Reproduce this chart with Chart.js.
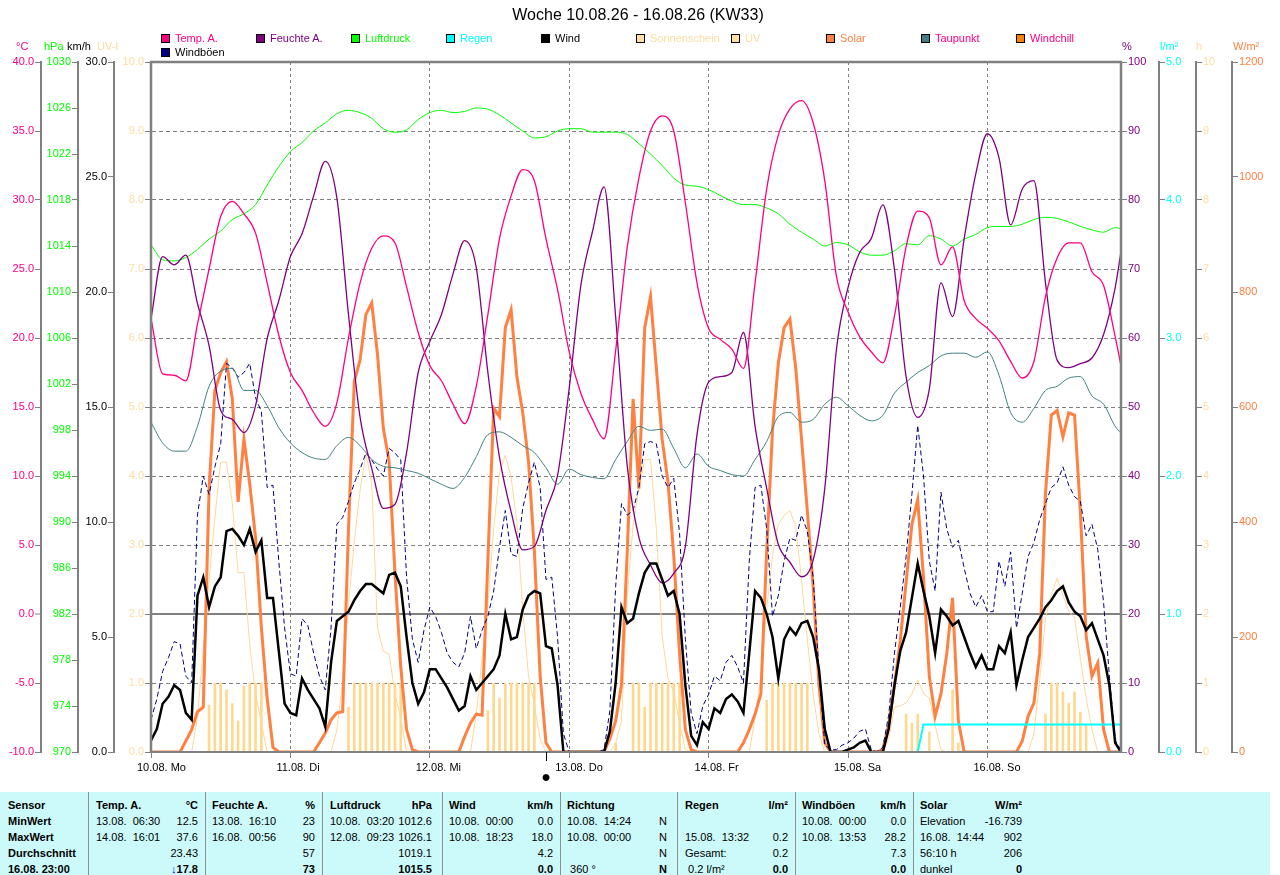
<!DOCTYPE html>
<html><head><meta charset="utf-8">
<script src="https://cdn.jsdelivr.net/npm/chart.js@4.4.1/dist/chart.umd.min.js"></script>
<style>
html,body{margin:0;padding:0;background:#fff;}
body{width:1280px;height:875px;overflow:hidden;position:relative;font-family:"Liberation Sans",Arial,Helvetica,sans-serif;}
#wrap{position:absolute;left:0;top:0;width:1280px;height:792px;}
.a{position:absolute;white-space:pre;font-size:11px;line-height:13px;}
#title{position:absolute;left:0;top:6px;width:1276px;text-align:center;font-size:16px;line-height:18px;color:#000;}
.box{position:absolute;width:7px;height:7px;border:1px solid #000;}
#tbl{position:absolute;left:0;top:792px;width:1270px;height:83px;background:#ccfafa;}
.c{position:absolute;white-space:pre;font-size:11px;line-height:16px;color:#000;}
.b{font-weight:bold;}
.sep{position:absolute;top:0;width:1px;height:83px;background:#909090;}
</style></head><body>
<div id="wrap"><canvas id="c" width="1280" height="792"></canvas></div>
<div id="title">Woche 10.08.26 - 16.08.26 (KW33)</div>
<div id="tbl"></div>
<script>
const FONT = '"Liberation Sans", Arial, Helvetica, sans-serif';

// ---- time axis ----
const dayTicks = [0, 24, 48, 72, 96, 120, 144];
const dayLabels = ['10.08. Mo', '11.08. Di', '12.08. Mi', '13.08. Do', '14.08. Fr', '15.08. Sa', '16.08. So'];
const hours2 = Array.from({length: 84}, (_, i) => i * 2).concat([167]);
const hours1 = Array.from({length: 168}, (_, i) => i);
const moonHour = 68;

// ---- 2-hourly series ----
const temperature = [
21.4,17.4,17.3,16.9,21.0,25.0,28.8,29.9,29.0,27.6,24.0,20.2,
17.5,16.2,14.6,13.6,15.3,20.0,24.0,26.5,27.4,26.9,23.7,20.4,
18.0,16.9,15.2,13.8,16.5,21.7,27.2,30.3,32.2,31.4,27.2,23.5,
19.0,16.0,14.1,12.7,19.1,26.6,31.6,35.0,36.1,35.0,29.8,24.0,
20.7,19.9,19.2,17.8,24.0,30.8,34.7,36.6,37.2,35.6,31.4,24.5,
21.9,20.1,19.0,18.2,21.6,26.6,29.2,28.7,25.3,26.6,22.7,21.4,
20.7,19.8,18.3,17.1,18.3,23.0,25.8,26.9,26.9,24.8,23.8,20.1,18.0];
const humidity = [
62.8,71.8,70.6,72.0,65.0,58.9,49.5,48.2,46.3,50.2,59.9,65.4,
71.8,75.1,80.6,85.6,80.3,63.4,48.5,41.1,35.3,35.9,43.4,55.0,
59.5,63.4,69.3,74.1,70.2,55.0,42.7,34.8,29.3,29.8,35.0,40.1,
52.7,67.6,75.4,81.9,63.0,41.4,31.1,27.1,24.5,25.9,29.8,46.0,
53.6,54.4,55.0,60.8,47.2,38.2,30.1,27.5,25.4,27.8,38.2,58.3,
67.3,72.4,74.4,79.3,69.9,54.4,48.5,52.6,68.0,63.1,74.4,83.8,
89.6,86.1,76.4,81.6,82.8,68.0,56.8,55.7,56.3,57.1,60.5,67.3,72.5];
const pressure = [
1014.1,1012.8,1012.7,1013.0,1013.7,1014.6,1015.3,1016.3,1016.8,1017.6,1019.3,1020.9,
1022.2,1023.0,1024.0,1024.7,1025.5,1025.8,1025.6,1025.1,1024.2,1023.9,1024.1,1025.0,
1025.6,1025.8,1025.6,1025.7,1026.0,1025.9,1025.4,1024.7,1024.0,1023.4,1023.5,1024.0,
1024.2,1024.2,1023.9,1023.9,1023.9,1023.7,1022.9,1022.0,1021.0,1019.9,1019.3,1019.2,
1018.9,1018.4,1017.9,1017.6,1017.6,1017.3,1016.8,1015.9,1015.2,1014.6,1014.0,1014.3,
1014.1,1013.5,1013.2,1013.2,1013.6,1014.2,1014.1,1014.9,1014.6,1014.0,1014.6,1015.0,
1015.6,1015.7,1015.7,1015.9,1016.3,1016.5,1016.4,1016.1,1015.7,1015.4,1015.2,1015.6,1015.5];
const dewpoint = [
13.9,12.4,11.8,11.8,13.6,16.5,17.6,17.8,16.2,16.2,15.1,13.5,
12.4,11.7,11.3,11.2,12.2,12.8,12.2,11.2,10.7,10.6,10.4,10.2,
9.8,9.4,9.1,9.9,11.4,13.0,13.2,12.8,12.2,11.7,10.6,9.4,
10.5,10.1,9.9,9.8,11.2,12.5,13.6,13.3,13.4,12.0,10.6,11.6,
10.7,10.4,10.1,10.0,11.2,12.5,14.3,14.6,13.9,14.1,15.2,15.7,
15.1,14.4,14.0,14.4,16.0,16.8,17.5,18.0,18.7,18.9,18.9,18.6,
19.0,17.3,14.6,13.9,14.9,16.2,16.5,17.1,17.2,15.8,15.2,13.6,13.1];

// ---- hourly series ----
const wind = [
0.5,1.0,2.1,2.4,2.9,2.7,1.7,1.4,6.8,7.6,6.3,7.2,7.6,9.6,9.7,9.4,9.0,9.7,8.7,9.2,6.7,6.7,4.4,2.1,
1.7,1.6,3.2,2.7,2.3,1.9,1.1,3.9,5.7,5.9,6.1,6.6,7.0,7.3,7.3,7.1,6.9,7.7,7.8,7.2,5.0,3.0,2.1,2.6,
3.6,3.6,3.2,2.8,2.3,1.8,2.0,3.3,2.7,3.0,3.3,3.6,4.2,6.0,4.9,5.0,6.2,6.8,7.0,6.9,4.6,4.5,2.9,0.0,
0,0,0,0,0,0,0,0.9,3.0,6.3,5.6,5.8,6.9,7.8,8.2,8.2,7.5,6.8,7.0,6.0,2.9,0.7,0.3,1.3,
1.0,1.9,1.7,2.3,2.5,2.2,1.7,4.3,7.0,6.7,6.0,5.0,3.2,4.9,5.4,5.1,5.6,5.7,5.0,3.6,1.0,0,0,0,
0.1,0.2,0.4,0.5,0,0,0,1.0,2.9,4.4,5.2,6.7,8.2,7.0,5.9,4.3,6.2,5.9,5.5,5.7,5.0,4.3,3.7,4.2,
3.6,3.6,4.6,4.3,5.2,2.9,4.0,5.0,5.4,5.8,6.3,6.6,7.0,7.2,6.5,6.1,5.9,5.3,5.6,4.9,4.2,2.9,0.4,0];
const gusts = [
1.4,2.3,3.5,4.1,4.8,4.7,3.3,3.0,10.3,12.0,11.2,12.4,13.4,16.9,16.7,16.3,16.5,16.9,15.4,14.8,11.5,11.6,8.3,5.4,
3.4,3.3,5.8,5.5,4.3,3.3,2.7,5.4,9.9,10.2,10.9,11.7,12.3,13.0,12.7,12.3,12.0,13.2,13.0,12.7,7.6,4.9,3.9,5.3,
6.3,5.9,5.2,4.3,3.9,3.7,4.3,5.9,4.5,5.3,5.9,7.0,8.9,10.5,8.6,8.5,10.6,11.7,12.6,11.5,7.5,7.6,5.0,0.8,
0,0,0,0,0,0,0.1,1.8,7.2,10.8,10.3,10.5,11.5,13.4,13.5,13.4,12.0,11.5,11.9,9.5,4.9,1.7,0.8,2.0,
2.5,3.3,3.1,3.9,4.2,3.7,3.0,8.3,11.5,11.6,9.7,5.9,6.8,8.3,9.3,9.2,10.3,9.6,7.6,3.5,0.3,0.1,0.1,0.3,
0.4,0.6,0.9,1.0,0.1,0,0.2,1.6,4.3,6.3,8.5,11.2,14.2,12.0,8.3,7.0,11.3,9.7,8.9,9.2,8.0,6.9,6.3,6.8,
6.1,6.1,8.3,7.2,8.7,5.4,6.9,8.5,9.1,10.1,10.8,11.5,11.7,12.4,11.6,11.1,10.9,9.4,9.9,8.8,6.5,3.3,0.5,0.1];
const solar = [
0,0,0,0,0,0,19,39,70,78,458,629,660,679,614,435,544,466,373,217,93,8,0,0,
0,0,0,0,0,16,33,56,68,70,388,645,682,761,781,691,563,505,311,148,39,4,0,0,
0,0,0,0,0,0,27,50,66,64,334,598,583,738,769,652,590,505,350,132,16,0,0,0,
0,0,0,0,0,0,0,23,54,117,350,614,458,738,792,668,544,470,342,171,39,4,0,0,
0,0,0,0,0,0,16,39,66,101,350,559,676,738,753,668,544,419,287,117,16,0,0,0,
0,0,0,0,0,0,4,47,117,194,295,396,439,303,132,62,101,171,268,54,0,0,0,0,
0,0,0,0,0,0,19,62,85,171,450,586,594,548,590,586,419,202,132,155,39,0,0,0];
const uvIndex = [
0,0,0,0,0,0,0,0,0.5,1.5,2.5,3.4,4.2,4.2,3.6,2.6,2.6,1.55,0.84,0.42,0,0,0,0,
0,0,0,0,0,0,0,0,0.32,1.04,2.14,3.04,3.8,4.32,3.9,1.8,1.46,1.42,0.84,0.49,0,0,0,0,
0,0,0,0,0,0,0,0,0.55,1.36,2.14,3.24,4.05,4.3,3.98,3.33,2.07,1.1,0.68,0.19,0,0,0,0,
0,0,0,0,0,0,0,0,0.13,0.45,2.27,3.3,3.8,4.24,4.24,3.24,1.68,1.07,0.87,0.42,0.03,0,0,0,
0,0,0,0,0,0,0,0,0.5,1.1,2.07,2.85,3.3,3.43,3.5,3.27,2.49,1.62,0.84,0.26,0,0,0,0,
0,0,0,0,0,0,0,0.19,0.65,0.67,0.71,0.84,1.04,0.85,0.78,0.39,0.03,0,0,0,0,0,0,0,
0,0,0,0,0,0,0,0,0.26,1.04,1.94,2.27,2.52,2.27,2.04,1.95,1.36,0.78,0.32,0,0,0,0,0];

// ---- sunshine (hourly bars) and rain ----
const sunHours = [10,11,12,13,14,15,16,17,18,19, 34,35,36,37,38,39,40,41,42,43, 58,59,60,61,62,63,64,65,66,
  80,83,84,85,86,87,88,89,90,91, 106,107,108,109,110,111,112,113, 130,131,132,134,138,139, 154,155,156,157,158,159,160,161];
const sunValues = [0.68,1,1,0.9,0.7,0.45,0.95,1,1,1, 0.65,1,1,1,1,1,1,1,1,1, 0.6,1,0.78,1,1,1,1,1,1,
  0.13,1,1,0.65,1,1,1,1,1,1, 0.75,1,1,1,1,1,1,1, 0.55,0.42,0.55,0.29,0.9,0.13, 0.55,1,1,0.87,0.71,0.87,0.58,0.39];
const rainHours = [0, 132, 133, 167];
const rainValues = [0, 0, 0.2, 0.2];

// ---- axis ticks ----
const tempTicks = [-10,-5,0,5,10,15,20,25,30,35,40];
const pressTicks = [970,974,978,982,986,990,994,998,1002,1006,1010,1014,1018,1022,1026,1030];
const windTicks = [0,5,10,15,20,25,30];
const uvTicks = [0,1,2,3,4,5,6,7,8,9,10];
const humTicks = [0,10,20,30,40,50,60,70,80,90,100];
const rainTicks = [0,1,2,3,4,5];
const sunTicks = [0,1,2,3,4,5,6,7,8,9,10];
const solarTicks = [0,200,400,600,800,1000,1200];

// ---- legend ----
const legendNames = ['Temp. A.','Feuchte A.','Luftdruck','Regen','Wind','Sonnenschein','UV','Solar','Taupunkt','Windchill','Windböen'];
const legendBox = ['#ff0080','#800080','#00ff00','#00ffff','#000000','#ffe0a0','#ffe0a0','#ff8040','#408080','#ff8000','#000080'];
const legendText = ['#ff0080','#800080','#00ff00','#00ffff','#000000','#ffdca0','#ffdca0','#ff8040','#ff0080','#ff0080','#000000'];

const axisTitles = [['°C',16,'#ff0080'],['hPa',44,'#00ff00'],['km/h',67,'#000000'],['UV-I',97,'#ffdca0'],
  ['%',1122,'#800080'],['l/m²',1160,'#00ffff'],['h',1196,'#ffdca0'],['W/m²',1233,'#ff8040']];

legendNames.forEach((n, i) => {
  const row = i < 10 ? 0 : 1, col = i < 10 ? i : 0;
  const x = 161 + 95 * col, y = 34 + 14 * row;
  const b = document.createElement('div'); b.className = 'box';
  b.style.left = x + 'px'; b.style.top = y + 'px'; b.style.background = legendBox[i];
  document.body.appendChild(b);
  const t = document.createElement('div'); t.className = 'a';
  t.style.left = (x + 14) + 'px'; t.style.top = (y - 2) + 'px'; t.style.color = legendText[i];
  t.textContent = n; document.body.appendChild(t);
});
axisTitles.forEach(([s, x, c]) => {
  const t = document.createElement('div'); t.className = 'a';
  t.style.left = x + 'px'; t.style.top = '40px'; t.style.color = c; t.textContent = s;
  document.body.appendChild(t);
});

// ---- chart ----
const pts = (xs, ys) => xs.map((x, i) => ({x: x, y: ys[i]}));
const GREY = '#808080';
function sideAxis(pos, min, max, ticksArr, fmt, color, width, weight, extra) {
  const ax = {
    type: 'linear', position: pos, min: min, max: max, weight: weight,
    afterBuildTicks: s => { s.ticks = ticksArr.map(v => ({value: v})); },
    afterFit: s => { s.width = width; },
    ticks: {color: color, font: {size: 11, family: FONT}, padding: 1, autoSkip: false, callback: v => fmt(v)},
    grid: {drawOnChartArea: false, offset: false, color: GREY, tickColor: GREY, tickLength: 6, tickWidth: 1},
    border: {display: true, color: GREY, width: 2}
  };
  if (extra) extra(ax);
  return ax;
}
const f1 = v => Number(v).toFixed(1), f0 = v => String(Math.round(v));

const framePlugin = {
  id: 'frame',
  afterDatasetsDraw(chart) {
    const {ctx, chartArea: a, scales} = chart;
    ctx.save();
    ctx.strokeStyle = GREY; ctx.lineWidth = 2.5;
    ctx.beginPath();
    ctx.moveTo(a.left, a.bottom); ctx.lineTo(a.left, a.top); ctx.lineTo(a.right, a.top); ctx.lineTo(a.right, a.bottom);
    ctx.stroke();
    ctx.lineWidth = 2; ctx.beginPath(); ctx.moveTo(a.left, a.bottom); ctx.lineTo(a.right, a.bottom); ctx.stroke();
    const mx = scales.x.getPixelForValue(moonHour);
    ctx.strokeStyle = '#000'; ctx.lineWidth = 1;
    ctx.beginPath(); ctx.moveTo(Math.round(mx) + 0.5, a.bottom); ctx.lineTo(Math.round(mx) + 0.5, a.bottom + 9); ctx.stroke();
    ctx.fillStyle = '#000'; ctx.font = '16px ' + FONT; ctx.textAlign = 'center'; ctx.textBaseline = 'middle';
    ctx.fillText('●', mx, a.bottom + 26);
    ctx.restore();
  }
};

new Chart(document.getElementById('c'), {
  type: 'line',
  data: {datasets: [
    {label: 'Sonnenschein', type: 'bar', data: pts(sunHours, sunValues), yAxisID: 'ySun', backgroundColor: '#ffd890', barThickness: 2, order: 10},
    {label: 'UV', data: pts(hours1, uvIndex), yAxisID: 'yUV', borderColor: '#ffd898', borderWidth: 1, order: 9},
    {label: 'Solar', data: pts(hours1, solar), yAxisID: 'ySol', borderColor: '#ff8040', borderWidth: 3, order: 8},
    {label: 'Windböen', data: pts(hours1, gusts), yAxisID: 'yW', borderColor: '#000080', borderWidth: 1, borderDash: [5, 3], order: 7},
    {label: 'Taupunkt', data: pts(hours2, dewpoint), yAxisID: 'yT', borderColor: '#408080', borderWidth: 1, cubicInterpolationMode: 'monotone', order: 6},
    {label: 'Luftdruck', data: pts(hours2, pressure), yAxisID: 'yP', borderColor: '#00ff00', borderWidth: 1, cubicInterpolationMode: 'monotone', order: 5},
    {label: 'Feuchte A.', data: pts(hours2, humidity), yAxisID: 'yH', borderColor: '#800080', borderWidth: 1.3, cubicInterpolationMode: 'monotone', order: 4},
    {label: 'Temp. A.', data: pts(hours2, temperature), yAxisID: 'yT', borderColor: '#ff0080', borderWidth: 1.3, cubicInterpolationMode: 'monotone', order: 3},
    {label: 'Regen', data: pts(rainHours, rainValues), yAxisID: 'yR', borderColor: '#00ffff', borderWidth: 2, order: 2},
    {label: 'Wind', data: pts(hours1, wind), yAxisID: 'yW', borderColor: '#000000', borderWidth: 2.5, order: 1}
  ]},
  options: {
    responsive: false, animation: false, devicePixelRatio: 1,
    layout: {padding: {left: 0, right: 10, top: 62, bottom: 0}},
    plugins: {legend: {display: false}, tooltip: {enabled: false}, title: {display: false}},
    elements: {point: {radius: 0}, line: {tension: 0, fill: false}},
    scales: {
      x: {
        type: 'linear', min: 0, max: 167, offset: false, position: 'bottom',
        afterBuildTicks: s => { s.ticks = dayTicks.map(v => ({value: v})); },
        afterFit: s => { s.height = 40; },
        ticks: {color: '#000', font: {size: 11, family: FONT}, align: 'start', labelOffset: -14, padding: 3, maxRotation: 0, autoSkip: false,
          callback: v => dayLabels[Math.round(v / 24)]},
        grid: {drawOnChartArea: true, offset: false, color: GREY, lineWidth: 1, tickColor: GREY, tickLength: 6, tickWidth: 1},
        border: {display: true, color: GREY, width: 2, dash: [3, 3]}
      },
      yT: sideAxis('left', -10, 40, tempTicks, f1, '#ff0080', 41, 3, ax => {
        ax.grid.drawOnChartArea = true;
        ax.grid.lineWidth = c => (c.tick && c.tick.value === 0) ? 2 : 1;
        ax.border.dash = c => (c.tick && c.tick.value === 0) ? [] : [4, 3];
      }),
      yP: sideAxis('left', 970, 1030, pressTicks, f0, '#00ff00', 37, 2),
      yW: sideAxis('left', 0, 30, windTicks, f1, '#000000', 36, 1),
      yUV: sideAxis('left', 0, 10, uvTicks, f1, '#ffdca0', 37, 0),
      yH: sideAxis('right', 0, 100, humTicks, f0, '#800080', 38, 0),
      yR: sideAxis('right', 0, 5, rainTicks, f1, '#00ffff', 37, 1),
      ySun: sideAxis('right', 0, 10, sunTicks, f0, '#ffdca0', 36, 2),
      ySol: sideAxis('right', 0, 1200, solarTicks, f0, '#ff8040', 38, 3)
    }
  },
  plugins: [framePlugin]
});

// ---- summary table ----
const tbl = document.getElementById('tbl');
const seps = [88, 205, 322, 442, 560, 677, 795, 913];
seps.forEach(x => { const d = document.createElement('div'); d.className = 'sep'; d.style.left = x + 'px'; tbl.appendChild(d); });
const rowTop = [5, 21, 37, 53, 69];
function cell(txt, x, row, align, cls, color) {
  const d = document.createElement('div');
  d.className = 'c' + (cls ? ' ' + cls : '');
  d.style.top = rowTop[row] + 'px';
  if (align === 'r') d.style.right = (1270 - x) + 'px'; else d.style.left = x + 'px';
  if (color) d.style.color = color;
  d.innerHTML = txt;
  tbl.appendChild(d);
}
const sensorLabels = ['Sensor', 'MinWert', 'MaxWert', 'Durchschnitt', '16.08. 23:00'];
sensorLabels.forEach((s, i) => cell(s, 8, i, 'l', 'b'));
const tableCols = [
  {l: 96, r: 198, head: ['Temp. A.', '°C'], left: ['13.08.  06:30', '14.08.  16:01', '', ''], right: ['12.5', '37.6', '23.43', '<span style="color:#0000ff">↓</span>17.8']},
  {l: 212, r: 315, head: ['Feuchte A.', '%'], left: ['13.08.  16:10', '16.08.  00:56', '', ''], right: ['23', '90', '57', '73']},
  {l: 330, r: 432, head: ['Luftdruck', 'hPa'], left: ['10.08.  03:20', '12.08.  09:23', '', ''], right: ['1012.6', '1026.1', '1019.1', '1015.5']},
  {l: 449, r: 553, head: ['Wind', 'km/h'], left: ['10.08.  00:00', '10.08.  18:23', '', ''], right: ['0.0', '18.0', '4.2', '0.0']},
  {l: 567, r: 667, head: ['Richtung', ''], left: ['10.08.  14:24', '10.08.  00:00', '', ' 360 °'], right: ['N', 'N', 'N', 'N']},
  {l: 685, r: 788, head: ['Regen', 'l/m²'], left: ['', '15.08.  13:32', 'Gesamt:', ' 0.2 l/m²'], right: ['', '0.2', '0.2', '0.0']},
  {l: 802, r: 906, head: ['Windböen', 'km/h'], left: ['10.08.  00:00', '10.08.  13:53', '', ''], right: ['0.0', '28.2', '7.3', '0.0']},
  {l: 920, r: 1022, head: ['Solar', 'W/m²'], left: ['Elevation', '16.08.  14:44', '56:10 h', 'dunkel'], right: ['-16.739', '902', '206', '0']}
];
tableCols.forEach(col => {
  cell(col.head[0], col.l, 0, 'l', 'b');
  if (col.head[1]) cell(col.head[1], col.r, 0, 'r', 'b');
  for (let i = 0; i < 4; i++) {
    if (col.left[i]) cell(col.left[i], col.l, i + 1, 'l', '');
    if (col.right[i]) cell(col.right[i], col.r, i + 1, 'r', i === 3 ? 'b' : '');
  }
});
</script>
</body></html>
